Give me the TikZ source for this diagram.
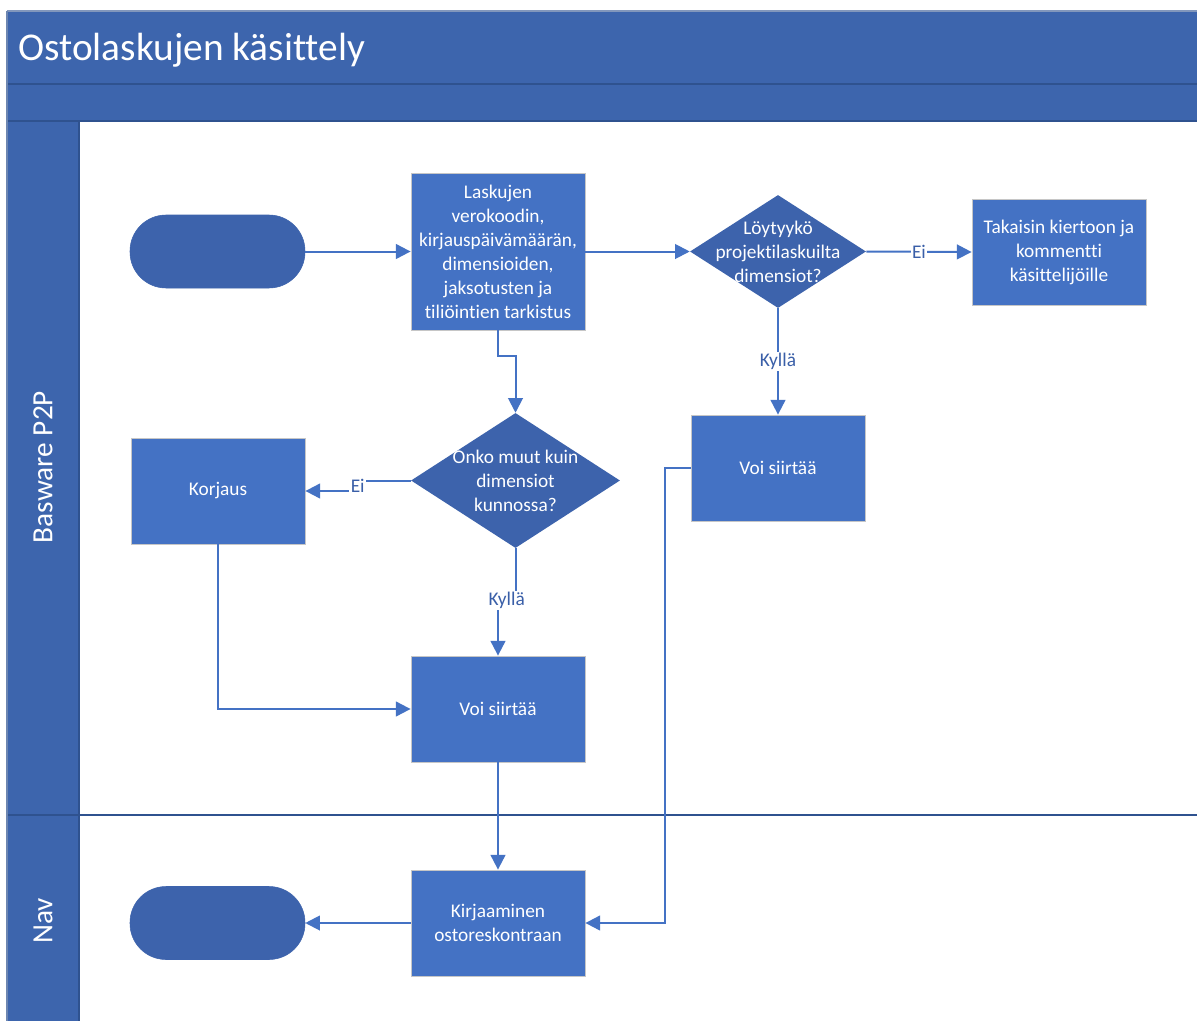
\documentclass[tikz,border=0pt]{standalone}
\usepackage{fontspec}
\setmainfont{Carlito}[Ligatures=NoCommon]
\usetikzlibrary{shapes.geometric,arrows.meta}
\definecolor{hdr}{HTML}{3D65AD}
\definecolor{hdrline}{HTML}{2F528F}
\definecolor{boxblue}{HTML}{4472C4}
\definecolor{darkshape}{HTML}{3D63AC}
\definecolor{lbl}{HTML}{3A5FA8}
\begin{document}
\begin{tikzpicture}[x=0.75pt,y=-0.75pt,
  txt/.style={font=\fontsize{14.5}{18}\selectfont},
  proc/.style={rectangle, draw=gray!45, line width=0.6pt, fill=boxblue, text=white,
    minimum width=130.5pt, minimum height=79.5pt, inner sep=1pt, align=center, txt},
  term/.style={rectangle, rounded corners=27pt, fill=darkshape, draw=darkshape,
    minimum width=131.25pt, minimum height=54.75pt},
  dec/.style={diamond, fill=darkshape, draw=none, inner sep=0pt},
  dtext/.style={text=white, align=center, inner sep=0pt, txt},
  flow/.style={draw=boxblue, line width=1.5pt, -{Triangle[length=11pt,width=11pt]}},
  lab/.style={fill=white, text=lbl, inner sep=1pt, txt},
  lane/.style={text=white, rotate=90, font=\fontsize{22}{26}\selectfont}
]
\fill[white] (0,0) rectangle (1197,1021);
\useasboundingbox (0,0) rectangle (1197,1021);
% pool frame
\fill[hdr] (7,11) rectangle (1197,121);
\fill[hdr] (7,121) rectangle (79,1021);
\draw[hdrline!60, line width=1pt] (7,11) -- (1197,11);
\draw[hdrline, line width=1.2pt] (7,84) -- (1197,84);
\draw[hdrline, line width=1.2pt] (7,121) -- (1197,121);
\draw[hdrline, line width=1pt] (79,121) -- (79,1021);
\draw[hdrline, line width=1.5pt] (7,815) -- (1197,815);
\draw[hdrline!70, line width=0.8pt] (7,11) -- (7,1021);
\node[anchor=base west, text=white, font=\fontsize{29.5}{34}\selectfont, inner sep=0pt] (title) at (18,60) {Ostolaskujen käsittely};
\node[lane] (lane1) at (43,467) {Basware P2P};
\node[lane] (lane2) at (43,921) {Nav};
% nodes
\node[term] (start) at (217.5,251.5) {};
\node[proc, minimum height=117.75pt] (b1) at (498,251.5) {Laskujen\\verokoodin,\\kirjauspäivämäärän,\\dimensioiden,\\jaksotusten ja\\tiliöintien tarkistus};
\node[dec, minimum width=132pt, minimum height=84.75pt,
  label={[dtext]center:{Löytyykö\\projektilaskuilta\\dimensiot?}}] (d1) at (778,251.5) {};
\node[proc] (tak) at (1059,252) {Takaisin kiertoon ja\\kommentti\\käsittelijöille};
\node[dec, minimum width=156.75pt, minimum height=101.25pt,
  label={[dtext]center:{Onko muut kuin\\dimensiot\\kunnossa?}}] (d2) at (515.5,480.5) {};
\node[proc] (kor) at (218,491) {Korjaus};
\node[proc] (vs1) at (778,468) {Voi siirtää};
\node[proc] (vs2) at (498,709) {Voi siirtää};
\node[proc] (kir) at (498,923) {Kirjaaminen\\ostoreskontraan};
\node[term] (end) at (217.5,923) {};
% connectors
\draw[flow] (start.east) -- (b1.west);
\draw[flow] (b1.east) -- (d1.west);
\draw[flow] (d1.east) -- node[lab]{Ei} (tak.west);
\draw[flow] (d1.south) -- node[lab]{Kyllä} (vs1.north);
\draw[flow] (b1.south) -- ++(0,26) -| (d2.north);
\draw[flow] (d2.west) -- ++(-53,0) |- node[lab,pos=0.25]{Ei} (kor.east);
\draw[flow] (d2.south) -- ++(0,52) -| node[lab,pos=0.25]{Kyllä} (vs2.north);
\draw[flow] (kor.south) |- (vs2.west);
\draw[flow] (vs2.south) -- (kir.north);
\draw[flow] (vs1.west) -- ++(-26,0) |- (kir.east);
\draw[flow] (kir.west) -- (end.east);
\end{tikzpicture}
\end{document}
